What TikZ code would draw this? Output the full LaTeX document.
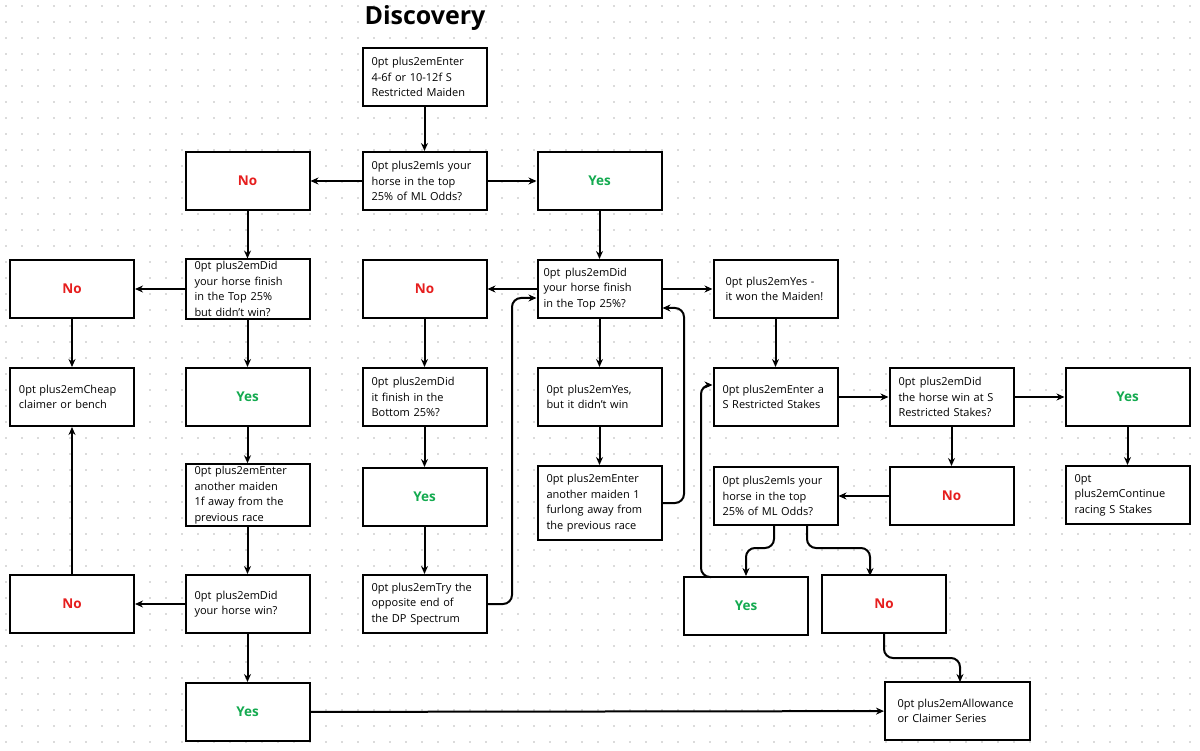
\documentclass[tikz,border=0pt]{standalone}
\usepackage{fontspec}
\setmainfont{Open Sans}
\usetikzlibrary{arrows.meta}
\definecolor{nored}{RGB}{230,30,30}
\definecolor{yesgreen}{RGB}{20,170,80}
\begin{document}
\begin{tikzpicture}[x=1pt,y=-1pt,
  box/.style={draw=black,line width=2pt,fill=white,minimum width=124pt,minimum height=58pt,text width=106pt,align=center,font=\fontsize{11}{15.5}\selectfont\hyphenpenalty=10000\exhyphenpenalty=10000,inner sep=2pt},
  no/.style={box,text=nored,font=\fontsize{13.5}{16}\selectfont\bfseries},
  yes/.style={box,text=yesgreen,font=\fontsize{13.5}{16}\selectfont\bfseries},
  arr/.style={-{Stealth[length=8pt,width=7pt]},line width=2pt,rounded corners=9pt}]
\useasboundingbox (0,0) rectangle (1200,751);
\fill[white] (0,0) rectangle (1200,751);
\foreach \i in {0,...,75}{\foreach \j in {0,...,47}{\fill[black!28] (\i*16+6,\j*16+6) circle (0.9pt);}}
\node[font=\fontsize{25}{28}\selectfont\bfseries] (t) at (425,18) {Discovery};
\node[box] (b1) at (424.5,77) {Enter 4-6f or 10-12f S Restricted Maiden};
\node[box] (q1) at (424.5,181) {Is your horse in the top 25\% of ML Odds?};
\node[no] (n1) at (247.5,181) {No};
\node[yes] (y1) at (599.5,181) {Yes};
\node[box] (q2) at (247.5,289) {Did your horse finish in the Top 25\% but didn't win?};
\node[no] (nl) at (72,289) {No};
\node[box] (cc) at (72,397) {Cheap claimer or bench};
\node[yes] (yl) at (247.5,397) {Yes};
\node[box] (em) at (247.5,495) {Enter another maiden 1f away from the previous race};
\node[box] (dw) at (247.5,604) {Did your horse win?};
\node[no] (nl2) at (72,604) {No};
\node[yes] (yl3) at (247.5,712) {Yes};
\node[no] (nm) at (424.5,289) {No};
\node[box] (db) at (424.5,397) {Did it finish in the Bottom 25\%?};
\node[yes] (ym) at (424.5,497) {Yes};
\node[box] (to) at (424.5,604) {Try the opposite end of the DP Spectrum};
\node[box,text width=112pt] (q3) at (599.5,289) {Did your horse finish in the Top 25\%?};
\node[box] (yb) at (599.5,397) {Yes, but it didn't win};
\node[box,minimum height=74pt] (ea) at (599.5,503) {Enter another maiden 1 furlong away from the previous race};
\node[box,text width=100pt] (yw) at (775.5,289) {Yes - it won the Maiden!};
\node[box] (es) at (775.5,397) {Enter a S Restricted Stakes};
\node[box] (dh) at (951.5,397) {Did the horse win at S Restricted Stakes?};
\node[yes] (yr) at (1127.5,397) {Yes};
\node[box] (cr) at (1127.5,495) {Continue racing S Stakes};
\node[no] (nr) at (951.5,496) {No};
\node[box] (q4) at (775.5,496) {Is your horse in the top 25\% of ML Odds?};
\node[yes] (yb2) at (746,606) {Yes};
\node[no] (nb2) at (884,604) {No};
\node[box,minimum width=145pt,text width=120pt] (al) at (957.5,711) {Allowance or Claimer Series};
\coordinate (c1) at (512,298);
\coordinate (c2) at (684,308);
\draw[arr] (b1) -- (q1);
\draw[arr] (q1) -- (n1);
\draw[arr] (q1) -- (y1);
\draw[arr] (n1) -- (q2);
\draw[arr] (y1) -- (q3);
\draw[arr] (q2) -- (nl);
\draw[arr] (nl) -- (cc);
\draw[arr] (q2) -- (yl);
\draw[arr] (yl) -- (em);
\draw[arr] (em) -- (dw);
\draw[arr] (dw) -- (nl2);
\draw[arr] (nl2) -- (cc);
\draw[arr] (dw) -- (yl3);
\draw[arr] (yl3) -- (al);
\draw[arr] (q3) -- (nm);
\draw[arr] (nm) -- (db);
\draw[arr] (db) -- (ym);
\draw[arr] (ym) -- (to);
\draw[arr] (to.east) -- (512,604) -- (c1) -- (c1 -| q3.west);
\draw[arr] (q3) -- (yb);
\draw[arr] (yb) -- (ea);
\draw[arr] (ea.east) -- (684,503) -- (c2) -- (c2 -| q3.east);
\draw[arr] (q3) -- (yw);
\draw[arr] (yw) -- (es);
\draw[arr] (es) -- (dh);
\draw[arr] (dh) -- (yr);
\draw[arr] (yr) -- (cr);
\draw[arr] (dh) -- (nr);
\draw[arr] (nr) -- (q4);
\draw[arr] (q4.south -| 774,0) -- (774,548) -- (746,548) -- (yb2.north);
\draw[arr] (q4.south -| 807,0) -- (807,548) -- (870,548) -- (870,576);
\draw[arr] (711,577) -- (701,577) -- (701,385) -- (es.west |- 0,385);
\draw[arr] (nb2.south) -- (884,658) -- (960,658) -- (960,682);
\end{tikzpicture}
\end{document}
